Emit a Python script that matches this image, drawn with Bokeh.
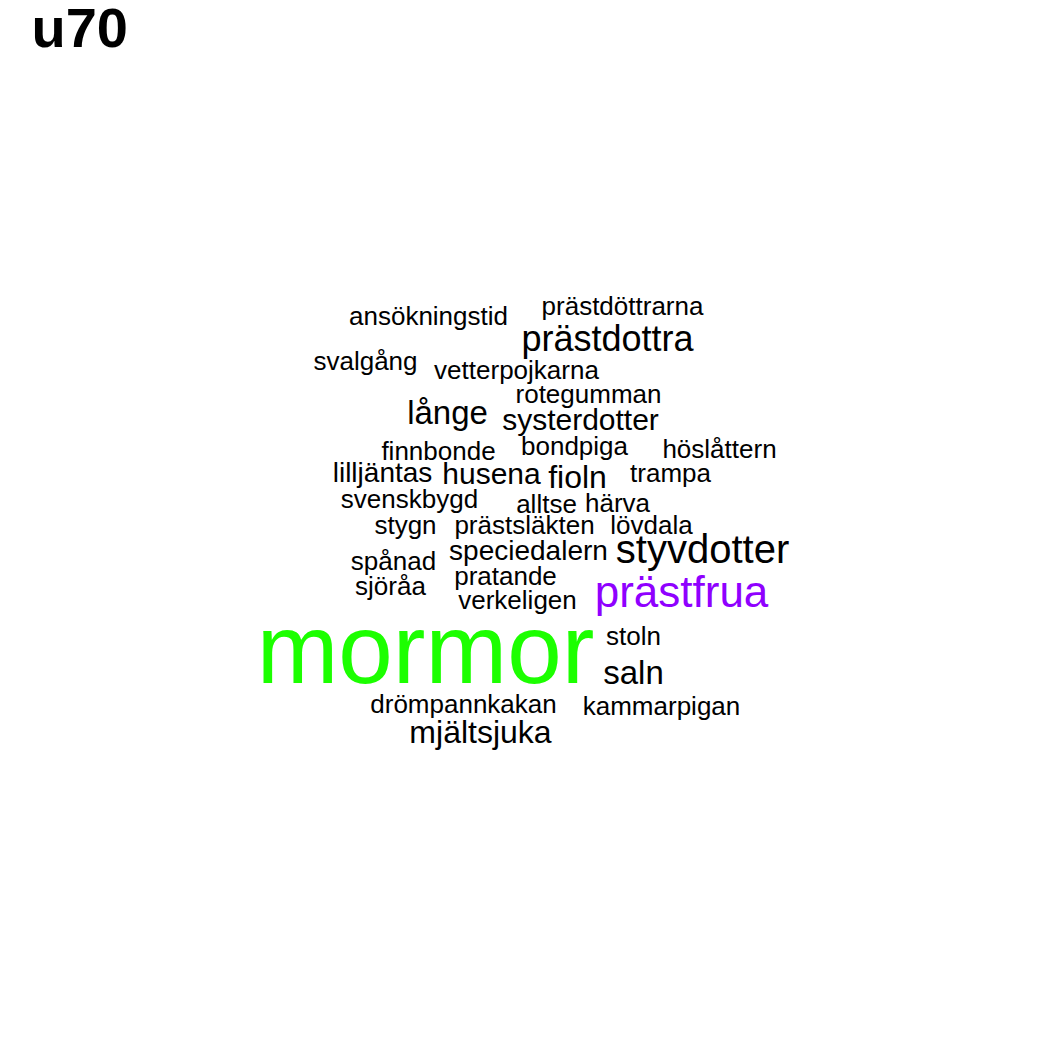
from bokeh.plotting import figure
from bokeh.models import ColumnDataSource, Range1d
from bokeh.core.properties import value
from bokeh.embed import file_html
from bokeh.resources import INLINE

# word cloud: word, centre position (page pixels), font size (px), colour
words = ["ansökningstid", "prästdöttrarna", "prästdottra", "svalgång", "vetterpojkarna",
         "rotegumman", "långe", "systerdotter", "finnbonde", "bondpiga", "höslåttern",
         "lilljäntas", "husena", "fioln", "trampa", "svenskbygd", "alltse", "härva",
         "stygn", "prästsläkten", "lövdala", "speciedalern", "styvdotter", "spånad",
         "sjöråa", "pratande", "prästfrua", "verkeligen", "mormor", "stoln", "saln",
         "drömpannkakan", "kammarpigan", "mjältsjuka"]
xs = [428, 622, 607, 365, 516, 588, 447, 580, 438, 574, 719, 382, 491, 577, 670, 409,
      546, 617, 405, 524, 651, 528, 702, 393, 390, 505, 681, 517, 425, 633, 633, 463, 661, 480]
ys = [315, 305, 338, 360, 369, 393, 412, 419, 450, 445, 448, 472, 473, 476, 472, 498,
      503, 502, 524, 524, 524, 550, 548, 560, 585, 575, 591, 599, 648, 635, 672, 703, 705, 731]
sizes = [26, 26, 36, 26, 26, 26, 33, 30, 26, 26, 26, 28, 30, 32, 26, 26,
         26, 26, 26, 26, 26, 28, 40, 26, 26, 26, 44, 26, 98, 26, 33, 26, 26, 32]
colors = ["black"] * len(words)
colors[words.index("prästfrua")] = "#8F00FF"
colors[words.index("mormor")] = "#1CFF00"

src = ColumnDataSource(dict(w=words, x=xs, y=ys, s=[f"{v}px" for v in sizes], c=colors))

p = figure(width=1034, height=1034, output_backend="svg", toolbar_location=None,
           x_range=Range1d(0, 1034), y_range=Range1d(1034, 0), min_border=0)
p.axis.visible = False
p.grid.visible = False
p.outline_line_color = None

p.text("x", "y", text="w", text_font_size="s", text_color="c", source=src,
       text_align="center", text_baseline="middle", text_font=value("Liberation Sans"))

p.text(x=[31], y=[27], text=["u70"], text_font_size="56px", text_font_style="bold",
       text_align="left", text_baseline="middle", text_font=value("Liberation Sans"),
       text_color="black")

open("out.html", "w").write(file_html(p, INLINE))
